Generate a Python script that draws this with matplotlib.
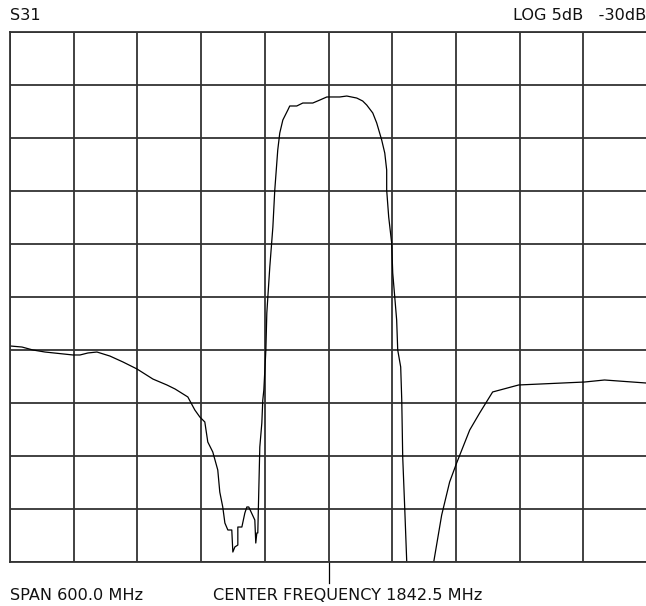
import matplotlib
matplotlib.use('Agg')
import matplotlib.pyplot as plt

# S31 trace
freq_mhz = [1542.5, 1553.8, 1564.1, 1575.4, 1601.8, 1608.4, 1615.9, 1624.4, 1636.6, 1648.9,
            1662.1, 1677.1, 1690.3, 1698.0, 1710.0, 1716.6, 1721.3, 1726.0, 1728.8, 1733.5,
            1738.2, 1740.1, 1742.9, 1744.9, 1747.7, 1751.4, 1752.4, 1754.3, 1757.1, 1757.1,
            1760.9, 1763.7, 1765.6, 1767.4, 1773.1, 1774.0, 1775.0, 1775.9, 1777.8, 1779.7,
            1780.6, 1781.6, 1783.5, 1784.4, 1787.2, 1790.1, 1791.9, 1794.7, 1796.6, 1799.5,
            1804.2, 1806.0, 1812.6, 1818.3, 1827.7, 1834.3, 1840.9, 1853.1, 1859.7, 1869.1,
            1874.7, 1878.5, 1884.2, 1887.9, 1892.6, 1895.5, 1897.3, 1897.3, 1899.2, 1902.0,
            1903.0, 1904.9, 1906.7, 1907.7, 1910.5, 1911.5, 1912.4, 1914.3, 1916.2, 1918.0,
            1939.7, 1941.6, 1949.1, 1956.6, 1963.2, 1975.5, 1984.9, 1997.1, 2021.6, 2083.7,
            2102.5, 2141.1]
s31_db = [-59.62, -59.72, -60.00, -60.19, -60.47, -60.47, -60.28, -60.19, -60.57, -61.13,
          -61.79, -62.74, -63.30, -63.68, -64.43, -65.66, -66.32, -66.79, -68.68, -69.62,
          -71.32, -73.40, -74.81, -76.32, -76.98, -76.98, -79.06, -78.58, -78.40, -76.70,
          -76.70, -75.38, -74.81, -74.81, -76.04, -78.21, -77.26, -77.26, -69.15, -66.89,
          -64.72, -63.77, -60.00, -56.51, -52.17, -48.40, -44.91, -41.13, -39.53, -38.30,
          -37.36, -36.98, -36.98, -36.70, -36.70, -36.42, -36.13, -36.13, -36.04, -36.23,
          -36.51, -36.89, -37.64, -38.58, -40.19, -41.42, -43.02, -44.91, -47.45, -49.91,
          -52.74, -55.00, -57.17, -60.00, -61.60, -64.72, -70.09, -74.91, -80.00, -83.58,
          -83.58, -80.00, -75.57, -72.45, -70.66, -67.55, -65.94, -63.96, -63.30, -63.02,
          -62.83, -63.11]

center = 1842.5
span = 600.0
ref_db = -30.0
db_per_div = 5.0

fig = plt.figure(figsize=(6.46, 6.06), dpi=100)
ax = fig.add_axes([10 / 646, 1 - 562 / 606, 637 / 646, 530 / 606])

x0 = center - span / 2
x_ticks = [x0 + i * span / 10 for i in range(11)]
y_ticks = [ref_db - i * db_per_div for i in range(11)]
ax.set_xlim(x_ticks[0], x_ticks[-1])
ax.set_ylim(y_ticks[-1], y_ticks[0])
ax.set_xticks(x_ticks)
ax.set_yticks(y_ticks)
ax.tick_params(length=0, labelbottom=False, labelleft=False)
ax.grid(True, color='#333333', linewidth=1.3)
for sp in ax.spines.values():
    sp.set_color('#333333')
    sp.set_linewidth(1.3)

ax.plot(freq_mhz, s31_db, color='black', linewidth=0.9)

# center frequency marker below the graticule
ax.plot([center, center], [y_ticks[-1], y_ticks[-1] - 2.0], color='black',
        linewidth=0.9, clip_on=False)

txt = dict(fontsize=11.6, family='DejaVu Sans', color='#111111', va='center')
fig.text(10 / 646, 1 - 15 / 606, 'S31', ha='left', **txt)
fig.text(646 / 646, 1 - 15 / 606, 'LOG 5dB   -30dB', ha='right', **txt)
fig.text(10 / 646, 1 - 596 / 606, 'SPAN 600.0 MHz', ha='left', **txt)
fig.text(213 / 646, 1 - 596 / 606, 'CENTER FREQUENCY 1842.5 MHz', ha='left', **txt)

fig.savefig('out.png', dpi=100)
